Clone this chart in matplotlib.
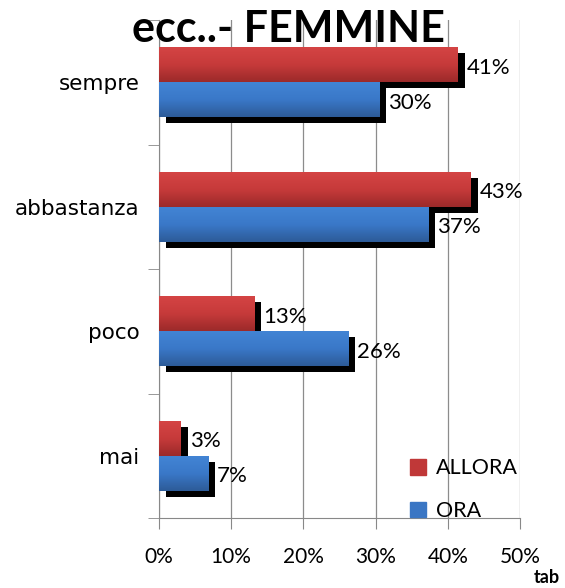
import numpy as np
import matplotlib
matplotlib.use('Agg')
import matplotlib.pyplot as plt
import matplotlib.transforms as mtransforms
from matplotlib.patches import Patch
from matplotlib.colors import LinearSegmentedColormap

plt.rcParams['font.family'] = ['Lato', 'DejaVu Sans']

categories = ['sempre', 'abbastanza', 'poco', 'mai']
allora = [41.4, 43.2, 13.2, 3.0]
ora = [30.5, 37.3, 26.2, 6.8]
series_names = ['ALLORA', 'ORA']
xticks = [0, 10, 20, 30, 40, 50]

red_cmap = LinearSegmentedColormap.from_list('r', ['#d44444', '#c63a3a', '#9c2a2a'])
blue_cmap = LinearSegmentedColormap.from_list('b', ['#4284d4', '#3a78c8', '#2d5b98'])

fig = plt.figure(figsize=(5.65, 5.88), dpi=100)
ax = fig.add_axes([0.2814, 0.119, 0.639, 0.847])

y = np.arange(len(categories))
h = 0.28
shadow = mtransforms.ScaledTranslation(7 / 100, -6 / 100, fig.dpi_scale_trans)
grad = np.linspace(0, 1, 64).reshape(-1, 1)

for vals, off, cmap in [(allora, -h / 2, red_cmap), (ora, h / 2, blue_cmap)]:
    # black drop shadow
    ax.barh(y + off, vals, height=h, color='black', zorder=2,
            transform=ax.transData + shadow)
    bars = ax.barh(y + off, vals, height=h, color=cmap(0.5), zorder=3)
    for b, v in zip(bars, vals):
        y0 = b.get_y()
        # axis is inverted: y0 is the visual top of the bar
        im = ax.imshow(grad, cmap=cmap, aspect='auto', zorder=4,
                       extent=[0, v, y0 + h, y0], origin='upper')
        im.set_clip_path(b)
        ax.annotate('%.0f%%' % v, (v, y0 + h / 2), xytext=(9, -3),
                    textcoords='offset pixels', va='center', ha='left',
                    fontsize=16, zorder=5)

ax.set_xlim(0, 50)
ax.set_ylim(len(categories) - 0.5, -0.5)
ax.set_xticks(xticks)
ax.set_xticklabels(['%d%%' % t for t in xticks], fontsize=15)
ax.set_yticks(y)
ax.set_yticklabels(categories, fontsize=15.5, family=['DejaVu Sans'])
ax.set_yticks(np.arange(len(categories) + 1) - 0.5, minor=True)
ax.tick_params(axis='y', which='major', length=0, pad=14)
ax.tick_params(axis='y', which='minor', length=8, color='#888888')
ax.tick_params(axis='x', length=8, color='#888888', pad=13)
ax.grid(axis='x', color='#8c8c8c', linewidth=0.9, zorder=0)
ax.set_axisbelow(True)
for s in ['top', 'right']:
    ax.spines[s].set_visible(False)
for s in ['left', 'bottom']:
    ax.spines[s].set_color('#888888')

handles = [Patch(color='#c03838'), Patch(color='#3a76c4')]
ax.legend(handles, series_names, loc='lower right', bbox_to_anchor=(1.047, -0.045),
          frameon=False, fontsize=15.5, handlelength=0.75, handleheight=0.75,
          labelspacing=1.05, handletextpad=0.45)

fig.text(0.51, 0.951, 'ecc..- FEMMINE', ha='center', va='center',
         fontsize=31, fontweight='bold')
fig.text(0.968, 0.003, 'tab', ha='center', va='bottom', fontsize=13,
         fontweight='bold')

fig.savefig('out.png', dpi=100)
